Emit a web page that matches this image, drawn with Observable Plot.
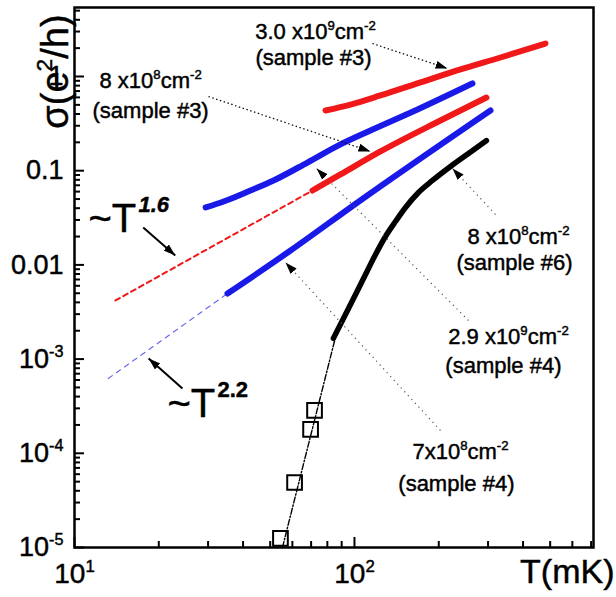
<!DOCTYPE html>
<html><head><meta charset="utf-8">
<script src="https://cdn.jsdelivr.net/npm/d3@7"></script>
<script src="https://cdn.jsdelivr.net/npm/@observablehq/plot@0.6"></script>
<style>
body{margin:0;background:#fff;}
svg{font-family:"Liberation Sans",Arial,sans-serif;}
svg text{stroke:black;stroke-width:0.45px;}
</style>
</head><body><div id="chart"></div>
<script>
// ---------- data (T in mK, sigma in e^2/h) ----------
const xDomain = [10, 714];
const yDomain = [1e-5, 5.4];
const xMajor = [10, 100];
const xLabels = ["10^{1}", "10^{2}"];
const xMinor = [20, 30, 40, 50, 60, 70, 80, 90, 200, 300, 400, 500, 600, 700];
const yMajor = [1e-5, 1e-4, 1e-3, 0.01, 0.1, 1];
const yLabels = ["10^{-5}", "10^{-4}", "10^{-3}", "0.01", "0.1", "1"];
const yMinorMult = [2, 3, 4, 5, 6, 7, 8, 9];

// 3.0x10^9 cm^-2 (sample #3) – red
const T_red3 = [78.8, 96.8, 123.8, 172.1, 239.1, 332.2, 481];
const S_red3 = [0.436, 0.504, 0.629, 0.864, 1.187, 1.591, 2.240];
// 8x10^8 cm^-2 (sample #3) – blue
const T_blue3 = [29.4, 34.1, 42.5, 51.4, 67.9, 89.1, 114.0, 167.9, 263.9];
const S_blue3 = [0.0407, 0.0471, 0.0616, 0.0787, 0.122, 0.190, 0.267, 0.446, 0.843];
// 8x10^8 cm^-2 (sample #6) – red
const T_red6 = [70.8, 89.1, 123.8, 202.8, 296];
const S_red6 = [0.0616, 0.0912, 0.160, 0.341, 0.598];
// ~T^1.6 extrapolation (red dashed)
const T_fit16 = [14.0, 70.8];
const S_fit16 = [0.00419, 0.0616];
// 2.9x10^9 cm^-2 (sample #4) – blue
const T_blue4 = [35.2, 59.1, 102.5, 306];
const S_blue4 = [0.00497, 0.0142, 0.0460, 0.436];
// ~T^2.2 extrapolation (blue dashed)
const T_fit22 = [13.2, 35.2];
const S_fit22 = [6.22e-4, 0.00497];
// 7x10^8 cm^-2 (sample #4) – black
const T_black = [84.1, 94.4, 107.7, 118.9, 129.0, 140.1, 152.1, 169.3, 189.9, 220.2, 255.4, 296];
const S_black = [0.00166, 0.00328, 0.00717, 0.01289, 0.0200, 0.02889, 0.04068, 0.0587, 0.0787, 0.1108, 0.1523, 0.209];
// open squares and dash-dot guide
const T_sq = [54.4, 61.1, 69.7, 72.0];
const S_sq = [1.25e-5, 4.9e-5, 1.79e-4, 2.85e-4];
const T_guide = [55.3, 85.5];
const S_guide = [1e-5, 0.00170];

// annotations
const noteText = ["3.0 x10^{9}cm^{-2}", "(sample #3)", "8 x10^{8}cm^{-2}", "(sample #3)",
  "8 x10^{8}cm^{-2}", "(sample #6)", "2.9 x10^{9}cm^{-2}", "(sample #4)", "7x10^{8}cm^{-2}", "(sample #4)"];
const noteT = [72.6, 71.4, 18.7, 18.7, 385.3, 372.8, 354.8, 340.4, 239.1, 231.2];
const noteS = [3.004, 1.591, 0.907, 0.4356, 0.0200, 0.0106, 1.738e-3, 8.55e-4, 1.045e-4, 4.67e-5];
const ptrFromT = [115.9, 30.1, 318.8, 255.4, 202.8];
const ptrFromS = [2.24, 0.613, 0.0343, 2.57e-3, 1.746e-4];
const ptrToT = [214.9, 114.0, 223.9, 73.2, 56.7];
const ptrToS = [1.216, 0.160, 0.1055, 0.1055, 0.01060];
const ptrDense = [true, true, false, false, false];
const lawText = ["~T", "~T"];
const lawExp = ["1.6", "2.2"];
const lawT = [11.22, 21.48];
const lawS = [0.0303, 3.30e-4];
const lawFromT = [17.6, 24.3];
const lawFromS = [0.0249, 4.88e-4];
const lawToT = [22.9, 18.4];
const lawToS = [0.01259, 1.015e-3];

// ---------- helpers ----------
const pts = (T, S) => T.map((t, i) => ({T: t, S: S[i]}));
const segs = (T1, S1, T2, S2) => T1.map((t, i) => ({T1: t, S1: S1[i], T2: T2[i], S2: S2[i], dense: ptrDense[i]}));
const yMinor = yMajor.slice(0, 5).flatMap(d => yMinorMult.map(m => d * m)).concat([2, 3, 4, 5]);
const RED = "#f01818", BLUE = "#1a1ae8";
const ptrs = segs(ptrFromT, ptrFromS, ptrToT, ptrToS);
const curve = {x: "T", y: "S", strokeWidth: 6, curve: "monotone-x", strokeLinecap: "round"};

const plot = Plot.plot({
  width: 616, height: 597,
  marginLeft: 74, marginRight: 23, marginTop: 7, marginBottom: 50,
  style: {fontFamily: "Liberation Sans, Arial, sans-serif", background: "white", color: "black", overflow: "visible"},
  x: {type: "log", domain: xDomain, label: null},
  y: {type: "log", domain: yDomain, label: null},
  marks: [
    Plot.axisX({ticks: xMinor, tickSize: -6, strokeWidth: 2, tickFormat: () => "", label: null}),
    Plot.axisX({ticks: xMajor, tickSize: -10, tickPadding: 26, strokeWidth: 2, fontSize: 28,
      tickFormat: d => xLabels[xMajor.indexOf(d)], label: null}),
    Plot.axisY({ticks: yMinor, tickSize: -6, strokeWidth: 2, tickFormat: () => "", label: null}),
    Plot.axisY({ticks: yMajor, tickSize: -10, tickPadding: 21, strokeWidth: 2, fontSize: 27,
      tickFormat: d => yLabels[yMajor.indexOf(d)], label: null}),

    // extrapolation lines
    Plot.line(pts(T_fit16, S_fit16), {x: "T", y: "S", stroke: RED, strokeWidth: 2, strokeDasharray: "5,4"}),
    Plot.line(pts(T_fit22, S_fit22), {x: "T", y: "S", stroke: "#6a6af0", strokeWidth: 1.2, strokeDasharray: "5,5"}),
    Plot.line(pts(T_guide, S_guide), {x: "T", y: "S", stroke: "black", strokeWidth: 1.4, strokeDasharray: "6,2,1.5,2"}),

    // data curves
    Plot.line(pts(T_red3, S_red3), {...curve, stroke: RED}),
    Plot.line(pts(T_blue3, S_blue3), {...curve, stroke: BLUE}),
    Plot.line(pts(T_red6, S_red6), {...curve, stroke: RED}),
    Plot.line(pts(T_blue4, S_blue4), {...curve, stroke: BLUE}),
    Plot.line(pts(T_black, S_black), {...curve, stroke: "black", strokeWidth: 5.5}),
    Plot.dot(pts(T_sq, S_sq), {x: "T", y: "S", symbol: "square", r: 8.3, stroke: "black", strokeWidth: 2, fill: "none"}),

    // pointer arrows
    Plot.link(ptrs.filter(d => d.dense), {x1: "T1", y1: "S1", x2: "T2", y2: "S2",
      stroke: "#111", strokeWidth: 1.3, strokeDasharray: "1.5,2.5", markerEnd: "arrow"}),
    Plot.link(ptrs.filter(d => !d.dense), {x1: "T1", y1: "S1", x2: "T2", y2: "S2",
      stroke: "#555", strokeWidth: 1.2, strokeDasharray: "1.2,4", markerEnd: "arrow"}),
    Plot.link(segs(lawFromT, lawFromS, lawToT, lawToS), {x1: "T1", y1: "S1", x2: "T2", y2: "S2",
      stroke: "black", strokeWidth: 2, markerEnd: "arrow"}),

    // annotation texts
    Plot.text(pts(noteT, noteS).map((d, i) => ({...d, label: noteText[i]})), {x: "T", y: "S", text: "label",
      fontSize: 22, textAnchor: "middle", lineAnchor: "middle", fill: "black"}),
    Plot.text(pts(lawT, lawS).map((d, i) => ({...d, label: lawText[i]})), {x: "T", y: "S", text: "label",
      fontSize: 40, textAnchor: "start", lineAnchor: "middle", fill: "black"}),
    Plot.text(pts(lawT, lawS).map((d, i) => ({...d, label: lawExp[i]})), {x: "T", y: "S", text: "label",
      fontSize: 22, fontWeight: "bold", fontStyle: "italic", textAnchor: "start", lineAnchor: "middle", fill: "black", dx: 50, dy: -15}),

    // axis titles
    Plot.text(["σ(e^{2}/h)"], {text: d => d, frameAnchor: "top-left", rotate: -90, dx: -19, dy: 64,
      fontSize: 38, textAnchor: "middle", lineAnchor: "middle", fill: "black"}),
    Plot.text(["T(mK)"], {text: d => d, frameAnchor: "bottom-right", dx: 21, dy: 25,
      fontSize: 34, textAnchor: "end", lineAnchor: "middle", fill: "black"}),

    Plot.frame({stroke: "black", strokeWidth: 2.5})
  ]
});
document.getElementById("chart").appendChild(plot);

// superscripts: "^{...}" -> raised tspan
const NS = "http://www.w3.org/2000/svg";
plot.querySelectorAll("text, tspan").forEach(el => {
  if (el.children.length) return;
  const s = el.textContent;
  if (!s.includes("^{")) return;
  const fs = parseFloat(getComputedStyle(el).fontSize);
  el.textContent = "";
  let up = false;
  for (const p of s.split(/(\^\{[^}]*\})/)) {
    if (!p) continue;
    const t = document.createElementNS(NS, "tspan");
    if (p.startsWith("^{")) {
      t.textContent = p.slice(2, -1);
      t.setAttribute("font-size", (fs * 0.6).toFixed(1));
      t.setAttribute("dy", (-fs * 0.4).toFixed(1));
      up = true;
    } else {
      t.textContent = p;
      if (up) { t.setAttribute("dy", (fs * 0.4).toFixed(1)); up = false; }
    }
    el.appendChild(t);
  }
});
// the 2.2 exponent is upright
plot.querySelectorAll("text").forEach(el => { if (el.textContent === "2.2") el.setAttribute("font-style", "normal"); });
// filled triangular arrowheads
plot.querySelectorAll("marker").forEach(m => {
  m.setAttribute("viewBox", "-12 -5 13 10");
  m.setAttribute("markerWidth", "13");
  m.setAttribute("markerHeight", "10");
  m.setAttribute("markerUnits", "userSpaceOnUse");
  m.setAttribute("refX", "0");
  m.setAttribute("refY", "0");
  m.setAttribute("orient", "auto");
  const p = m.querySelector("path");
  if (p) { p.setAttribute("d", "M-12,-4L0,0L-12,4Z"); p.setAttribute("fill", "black"); p.setAttribute("stroke", "none"); }
});
</script>
</body></html>
